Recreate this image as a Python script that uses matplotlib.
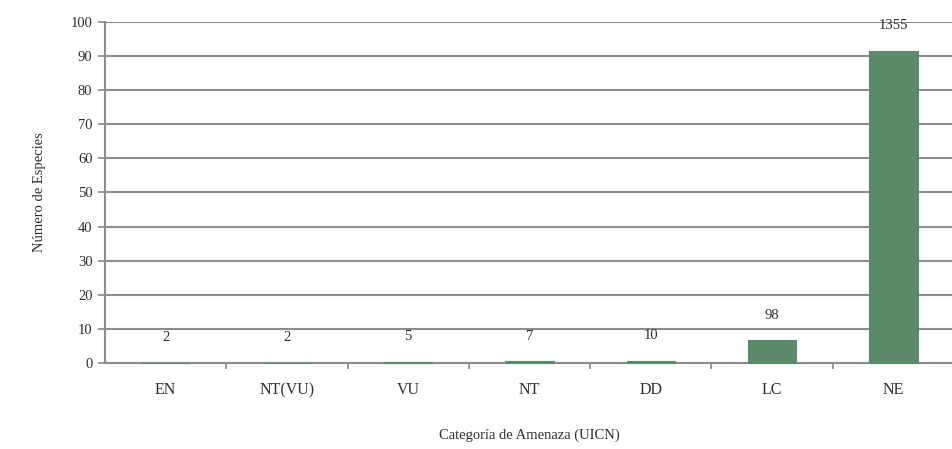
import matplotlib
matplotlib.use("Agg")
import matplotlib.pyplot as plt

categories = ["EN", "NT(VU)", "VU", "NT", "DD", "LC", "NE"]
counts = [2, 2, 5, 7, 10, 98, 1355]
percent = [0.14, 0.14, 0.34, 0.47, 0.68, 6.6, 91.6]
yticks = [0, 10, 20, 30, 40, 50, 60, 70, 80, 90, 100]

plt.rcParams['font.family'] = ['Liberation Serif', 'DejaVu Serif']

fig = plt.figure(figsize=(9.52, 4.49), dpi=100)
ax = fig.add_axes([105/952, 1 - 363/449, (954-105)/952, (363-22)/449])

x = list(range(len(categories)))
ax.bar(x, percent, width=0.4, color="#5b8a6b", zorder=3, edgecolor="#5b8a6b",
       linewidth=0.8, clip_on=False)
for xi, p, c in zip(x, percent, counts):
    ax.annotate(str(c), (xi, p), xytext=(0, 18), textcoords="offset points",
                ha="center", va="center", fontsize=10.5, color="#2e2e2e", zorder=4)

ax.set_xlim(-0.5, len(categories) - 0.5)
ax.set_ylim(0, 100)
ax.set_yticks(yticks)
ax.set_yticklabels([str(t) for t in yticks], fontsize=10.5, color="#2e2e2e")
ax.set_xticks(x)
ax.set_xticklabels(categories, fontsize=11.5, color="#2e2e2e")
ax.tick_params(axis='x', length=0, pad=14)
ax.set_xticks([i + 0.5 for i in x[:-1]], minor=True)
ax.tick_params(axis='x', which='minor', length=4, color="#888888", width=1.2)
ax.tick_params(axis='y', length=5, color="#888888", width=1.2, pad=4)

ax.grid(axis='y', color="#8c8c8c", linewidth=1.5, zorder=0)
ax.set_axisbelow(True)
for s in ["top", "right"]:
    ax.spines[s].set_visible(False)
for s in ["left", "bottom"]:
    ax.spines[s].set_color("#8c8c8c")
    ax.spines[s].set_linewidth(1.5)

fig.text(40/952, 1 - 192/449, "Número de Especies", rotation=90, ha="center", va="center",
         fontsize=10.5, color="#2e2e2e")
fig.text(529/952, 1 - 435/449, "Categoría de Amenaza (UICN)", ha="center", va="center",
         fontsize=10.5, color="#2e2e2e")

fig.savefig("out.png", dpi=100)
